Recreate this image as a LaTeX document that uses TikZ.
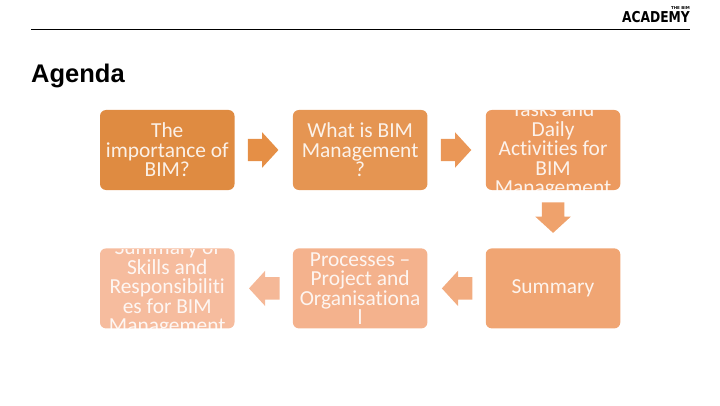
\documentclass[tikz,border=0pt]{standalone}
\usepackage{xcolor}
\usepackage{fontspec}
\setmainfont[Ligatures=NoCommon]{Carlito}
\newfontfamily\headfont{Liberation Sans}
\newfontfamily\logofont{DejaVu Sans}
\usetikzlibrary{positioning,shapes.arrows}

\definecolor{stepA}{HTML}{DF8B41}
\definecolor{stepB}{HTML}{E59552}
\definecolor{stepC}{HTML}{EC9A5F}
\definecolor{stepD}{HTML}{F0A573}
\definecolor{stepE}{HTML}{F4B28D}
\definecolor{stepF}{HTML}{F6BC9E}
\definecolor{arrowA}{HTML}{E58F46}
\definecolor{arrowB}{HTML}{EA9757}
\definecolor{arrowC}{HTML}{EFA26C}
\definecolor{arrowD}{HTML}{F2AC80}
\definecolor{arrowE}{HTML}{F5B897}

\tikzset{
    agenda box/.style={rectangle, rounded corners=6pt, minimum width=134.5pt,
        minimum height=80pt, inner sep=0pt, path picture={
        \node[agenda text] at (path picture bounding box.center) {#1};}},
    agenda text/.style={anchor=center, text=white, text opacity=0.88,
        font=\fontsize{21.4}{19.5}\selectfont, align=center, inner sep=0pt},
    flow arrow/.style={single arrow, minimum height=30.5pt, inner xsep=2pt, inner ysep=11pt,
        single arrow head extend=6.5pt, single arrow tip angle=95}
}

\begin{document}
\begin{tikzpicture}[x=1pt, y=1pt]
    \useasboundingbox (0,0) rectangle (720,405);

    % header
    \coordinate (ruleleft) at (31,376);
    \coordinate (ruleright) at (690,376);
    \draw[black, line width=0.8pt] (ruleleft) -- (ruleright);
    \node[anchor=base west, inner sep=0pt, font=\headfont\bfseries\fontsize{25.5}{25.5}\selectfont]
        (title) at (31,322) {Agenda};
    \node[anchor=base east, inner sep=0pt, xscale=0.82, font=\logofont\bfseries\fontsize{15}{15}\selectfont]
        (academy) at (690,382) {ACADEMY};
    \node[anchor=base east, inner sep=0pt, font=\logofont\bfseries\fontsize{4}{4}\selectfont]
        (bim) at (690,395) {THE BIM};

    % top row
    \node[agenda box={The\\importance of\\BIM?}, fill=stepA] (importance) at (167.25,255) {};
    \node[agenda box={What is BIM\\Management\\?}, fill=stepB, right=58pt of importance] (what) {};
    \node[agenda box={Tasks and\\Daily\\Activities for\\BIM\\Management}, fill=stepC, right=58pt of what] (tasks) {};

    % bottom row
    \node[agenda box={Summary}, fill=stepD, below=58pt of tasks] (summary) {};
    \node[agenda box={Processes --\\Project and\\Organisationa\\l}, fill=stepE, left=58pt of summary] (processes) {};
    \node[agenda box={Summary of\\Skills and\\Responsibiliti\\es for BIM\\Management}, fill=stepF, left=58pt of processes] (skills) {};

    % arrows between the boxes
    \node[flow arrow, fill=arrowA, right=13pt of importance] (arrowone) {};
    \node[flow arrow, fill=arrowB, right=13pt of what] (arrowtwo) {};
    \node[flow arrow, fill=arrowC, shape border rotate=270, inner xsep=11pt, inner ysep=2pt, below=12pt of tasks] (arrowthree) {};
    \node[flow arrow, fill=arrowD, shape border rotate=180, left=13pt of summary] (arrowfour) {};
    \node[flow arrow, fill=arrowE, shape border rotate=180, left=13pt of processes] (arrowfive) {};
\end{tikzpicture}
\end{document}
